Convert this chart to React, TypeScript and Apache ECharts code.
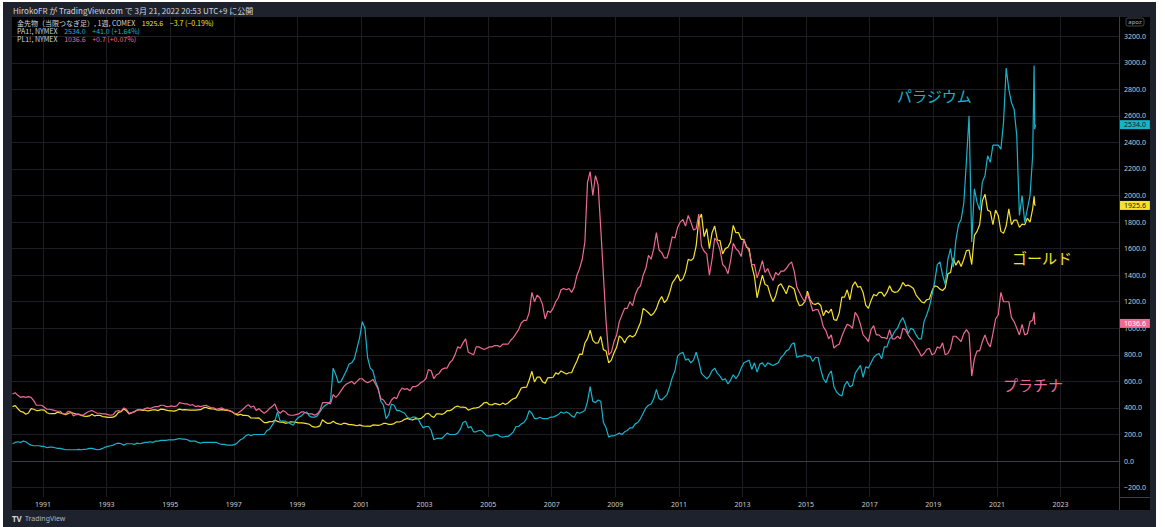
import React, { useEffect, useRef } from "react";
import * as echarts from "echarts";

// ---- data (monthly, Jan 1990 .. Feb 2022, then weekly tail for March 2022) ----
const START_YEAR = 1990;

const goldMonthly = [
  410, 417, 394, 374, 369, 352, 362, 395, 390, 380, 381, 386,
  384, 364, 356, 357, 357, 368, 362, 356, 349, 358, 366, 360,
  354, 354, 344, 338, 337, 340, 353, 340, 345, 344, 335, 333,
  329, 329, 330, 342, 367, 372, 392, 378, 355, 364, 373, 383,
  387, 382, 384, 377, 381, 386, 385, 380, 391, 389, 384, 379,
  378, 376, 382, 391, 385, 387, 386, 383, 383, 383, 386, 387,
  400, 405, 396, 393, 392, 385, 383, 387, 383, 381, 378, 369,
  355, 346, 352, 344, 344, 341, 324, 324, 323, 325, 306, 289,
  289, 297, 296, 308, 299, 292, 293, 284, 289, 296, 294, 291,
  287, 287, 286, 282, 277, 261, 256, 257, 265, 311, 293, 283,
  285, 299, 286, 280, 275, 285, 282, 274, 274, 270, 266, 272,
  265, 262, 263, 261, 272, 270, 268, 273, 283, 283, 276, 276,
  282, 296, 294, 302, 314, 321, 313, 310, 319, 317, 319, 333,
  356, 359, 340, 328, 355, 356, 351, 360, 379, 379, 389, 407,
  414, 405, 406, 403, 383, 392, 398, 400, 405, 420, 439, 442,
  424, 423, 434, 429, 423, 437, 425, 437, 456, 469, 476, 510,
  550, 555, 557, 610, 676, 596, 633, 632, 598, 585, 627, 629,
  631, 664, 655, 679, 667, 655, 665, 665, 712, 754, 806, 803,
  889, 922, 985, 909, 888, 889, 939, 839, 829, 740, 760, 816,
  858, 943, 925, 890, 928, 946, 934, 949, 996, 1043, 1150, 1135,
  1117, 1095, 1113, 1148, 1205, 1240, 1193, 1215, 1270, 1342, 1370, 1405,
  1356, 1372, 1424, 1520, 1510, 1528, 1620, 1820, 1860, 1690, 1750, 1600,
  1720, 1770, 1665, 1660, 1560, 1600, 1610, 1650, 1775, 1720, 1720, 1670,
  1670, 1610, 1600, 1470, 1390, 1230, 1320, 1400, 1330, 1320, 1250, 1200,
  1244, 1320, 1336, 1299, 1260, 1320, 1311, 1296, 1215, 1170, 1176, 1200,
  1280, 1215, 1185, 1180, 1190, 1172, 1095, 1135, 1115, 1145, 1065, 1060,
  1115, 1235, 1235, 1290, 1215, 1320, 1350, 1310, 1315, 1270, 1175, 1150,
  1210, 1255, 1245, 1270, 1270, 1240, 1270, 1320, 1280, 1270, 1275, 1300,
  1345, 1320, 1325, 1315, 1300, 1250, 1225, 1200, 1190, 1215, 1220, 1280,
  1320, 1315, 1295, 1285, 1305, 1410, 1420, 1530, 1475, 1510, 1465, 1520,
  1585, 1590, 1480, 1700, 1730, 1780, 1960, 2010, 1890, 1880, 1780, 1890,
  1850, 1730, 1715, 1770, 1900, 1780, 1815, 1815, 1760, 1785, 1780, 1830,
  1800, 1900,
];

const platinumMonthly = [
  505, 515, 495, 480, 485, 480, 485, 480, 455, 420, 420, 420,
  405, 390, 390, 385, 380, 375, 375, 355, 355, 375, 370, 340,
  350, 350, 345, 350, 365, 375, 380, 370, 360, 360, 355, 355,
  350, 345, 350, 375, 380, 375, 400, 390, 360, 365, 370, 385,
  390, 385, 395, 400, 395, 405, 410, 410, 420, 420, 410, 410,
  415, 410, 415, 440, 435, 430, 430, 420, 425, 410, 415, 410,
  415, 420, 410, 400, 400, 390, 395, 400, 390, 385, 380, 370,
  355, 360, 375, 390, 410, 425, 405, 415, 380, 395, 375, 360,
  375, 395, 410, 430, 380, 360, 380, 370, 350, 345, 345, 350,
  355, 370, 370, 360, 355, 355, 345, 355, 380, 440, 440, 440,
  430, 500, 480, 500, 530, 560, 580, 590, 600, 580, 600, 620,
  620, 600, 590, 600, 615, 580, 540, 470, 460, 430, 420, 460,
  480, 470, 520, 550, 540, 545, 530, 560, 560, 570, 590, 600,
  620, 690, 680, 620, 650, 660, 690, 700, 700, 740, 760, 800,
  860, 850, 890, 920, 820, 810, 800, 860, 860, 850, 840, 850,
  860, 860, 870, 870, 860, 880, 880, 880, 910, 930, 960, 990,
  1040, 1060, 1060, 1120, 1270, 1200, 1250, 1230, 1180, 1070, 1130, 1120,
  1150, 1200, 1230, 1290, 1300, 1290, 1300, 1270, 1310, 1400, 1450, 1520,
  1650, 2100, 2180, 2000, 2150, 2080, 1750, 1400, 1050, 800, 820, 900,
  950, 1050, 1100, 1150, 1150, 1200, 1170, 1250, 1300, 1320, 1400, 1450,
  1550, 1520, 1600, 1720, 1590, 1570, 1530, 1530, 1600, 1690, 1680, 1760,
  1800, 1820, 1770, 1850, 1800, 1740, 1750, 1860, 1620, 1580, 1560, 1400,
  1520, 1680, 1650, 1590, 1480, 1460, 1410, 1510, 1640, 1600, 1580, 1540,
  1670, 1620, 1580, 1480, 1480, 1380, 1440, 1510, 1420, 1450, 1400, 1360,
  1420, 1400, 1430, 1430, 1450, 1480, 1500, 1430, 1310, 1270, 1230, 1200,
  1260, 1200, 1130, 1140, 1140, 1090, 1010, 980, 920, 950, 850, 870,
  880, 940, 990, 1030, 1020, 1000, 1120, 1090, 1030, 950, 930, 900,
  990, 1020, 950, 950, 930, 930, 920, 990, 920, 920, 940, 920,
  1000, 990, 950, 920, 900, 860, 830, 790, 810, 840, 850, 800,
  810, 860, 850, 890, 800, 810, 850, 940, 940, 920, 900, 960,
  990, 960, 640, 770, 830, 830, 900, 950, 890, 860, 960, 1070,
  1100, 1270, 1200, 1200, 1200, 1080, 1050, 1000, 950, 1030, 950, 960,
  1050, 1060,
];

const palladiumMonthly = [
  130, 140, 145, 140, 150, 145, 130, 120, 115, 115, 115, 110,
  110, 100, 105, 105, 100, 95, 95, 90, 85, 85, 85, 85,
  85, 88, 85, 88, 90, 95, 95, 90, 85, 88, 95, 105,
  110, 115, 120, 130, 135, 130, 120, 130, 130, 130, 125, 135,
  130, 135, 140, 140, 145, 140, 150, 150, 155, 155, 155, 160,
  160, 160, 165, 170, 165, 165, 160, 150, 150, 150, 140, 135,
  140, 140, 140, 140, 140, 140, 130, 125, 125, 120, 120, 120,
  125, 140, 160, 170, 190, 200, 190, 200, 200, 200, 200, 200,
  230, 240, 270, 300, 370, 300, 300, 300, 290, 280, 270, 310,
  330, 340, 360, 370, 340, 330, 330, 340, 370, 400, 420, 430,
  450, 700, 650, 590, 600, 640, 680, 730, 740, 770, 850, 930,
  1050, 1000, 780, 700, 680, 600, 550, 450, 420, 320, 350, 430,
  420, 380, 380, 370, 360, 330, 320, 330, 330, 320, 280, 250,
  260, 260, 230, 160, 170, 170, 170, 190, 210, 200, 200, 200,
  210, 240, 290, 300, 250, 260, 220, 220, 230, 230, 210, 190,
  190, 190, 200, 200, 185, 180, 185, 185, 200, 220, 260, 260,
  280, 290, 320, 380, 360, 320, 320, 330, 320, 320, 320, 330,
  330, 340, 350, 370, 360, 370, 360, 340, 330, 370, 360, 370,
  380, 450, 560, 450, 440, 460, 450, 290, 250, 180, 190, 190,
  200, 210, 200, 220, 230, 250, 250, 280, 290, 320, 360, 400,
  420, 430, 470, 540, 470, 460, 480, 500, 560, 630, 680, 790,
  810, 820, 760, 770, 740, 760, 820, 750, 660, 640, 620, 640,
  680, 700, 660, 640, 610, 620, 580, 610, 650, 620, 650, 700,
  740, 750, 760, 690, 740, 670, 730, 740, 710, 740, 730, 720,
  730, 740, 780, 800, 830, 840, 880, 890, 780, 790, 790, 800,
  790, 790, 750, 780, 780, 690, 620, 590, 650, 680, 560, 520,
  500, 490, 570, 600, 560, 570, 660, 690, 720, 630, 710, 700,
  740, 780, 800, 810, 770, 860, 860, 920, 940, 980, 1000, 1050,
  1080, 1030, 960, 1000, 990, 950, 920, 920, 1050, 1100, 1160, 1250,
  1350, 1480, 1500, 1400, 1330, 1520, 1600, 1460, 1660, 1780, 1820, 1940,
  2260, 2600, 1650, 2050, 1950, 1890, 2100, 2150, 2300, 2250, 2380, 2380,
  2380, 2350, 2550, 2960, 2800, 2700, 2650, 2450, 1850, 2000, 1800, 1900,
  2000, 2300,
];

// weekly closes for March 2022 (decimal-year dates)
const tailDates = [2022.17, 2022.19, 2022.215];
const goldTail = [1995, 1930, 1925.6];
const platinumTail = [1120, 1030, 1036.6];
const palladiumTail = [2980, 2500, 2534.0];

const headerChanges = {
  gold: "−3.7 (−0.19%)",
  palladium: "+41.0 (+1.64%)",
  platinum: "+0.7 (+0.07%)",
};

const yearTicks = [1991, 1993, 1995, 1997, 1999, 2001, 2003, 2005, 2007, 2009, 2011, 2013, 2015, 2017, 2019, 2021, 2023];
const priceTicks = [-200, 0, 200, 400, 600, 800, 1000, 1200, 1400, 1600, 1800, 2000, 2200, 2400, 2600, 2800, 3000, 3200];

const GOLD = "#f5e22c";
const PALLADIUM = "#17b3cc";
const PLATINUM = "#ec6a93";
const FONT = '"Noto Sans", "Noto Sans CJK JP", sans-serif';
const JP = '"Noto Sans CJK JP", sans-serif';

function toPairs(monthly: number[], tD: number[], tV: number[]) {
  const out: number[][] = monthly.map((v, i) => [START_YEAR + (i + 0.5) / 12, v]);
  tD.forEach((d, i) => out.push([d, tV[i]]));
  return out;
}

function lastOf(a: number[]) {
  return a[a.length - 1];
}

function lineSeries(name: string, color: string, data: number[][], last: number, tagText: string) {
  return {
    name,
    type: "line",
    data,
    showSymbol: false,
    symbol: "none",
    lineStyle: { color, width: 1.2 },
    itemStyle: { color },
    clip: false,
    markLine: {
      silent: true,
      symbol: ["none", "none"],
      lineStyle: { color: "rgba(0,0,0,0)", width: 0, type: "solid" },
      emphasis: { disabled: true },
      data: [{ yAxis: last }],
      label: {
        show: true,
        position: "end",
        distance: 1,
        formatter: () => last.toFixed(1),
        backgroundColor: color,
        color: tagText,
        opacity: 1,
        fontSize: 7,
        fontFamily: FONT,
        padding: [1, 4, 1, 4],
      },
    },
  };
}

export default function App() {
  const ref = useRef<HTMLDivElement>(null);

  useEffect(() => {
    if (!ref.current) return;
    const chart = echarts.init(ref.current, undefined, { renderer: "svg" });
    const gl = lastOf(goldTail);
    const pa = lastOf(palladiumTail);
    const pl = lastOf(platinumTail);

    const option: any = {
      animation: false,
      backgroundColor: "#ffffff",
      textStyle: { fontFamily: FONT },
      grid: { left: 12, right: 46, top: 17, bottom: 30 },
      xAxis: {
        type: "value",
        min: 1990.025,
        max: 2024.84,
        axisLine: { show: true, lineStyle: { color: "#3b3e46", width: 1 } },
        axisTick: { show: false, customValues: yearTicks },
        axisLabel: {
          customValues: yearTicks,
          color: "#c9ccd3",
          fontSize: 7,
          margin: 4,
          formatter: (v: number) => String(v),
        },
        splitLine: { show: true, lineStyle: { color: "#1c1e24", width: 1 } },
      },
      yAxis: {
        type: "value",
        position: "right",
        min: -271,
        max: 3345,
        axisLine: { show: true, lineStyle: { color: "#3b3e46", width: 1 } },
        axisTick: { show: false, customValues: priceTicks },
        axisLabel: {
          customValues: priceTicks,
          color: "#c9ccd3",
          fontSize: 7,
          margin: 5,
          align: "left",
          formatter: (v: number) => (v < 0 ? "−" + Math.abs(v).toFixed(1) : v.toFixed(1)),
        },
        splitLine: { show: true, lineStyle: { color: "#1c1e24", width: 1 } },
      },
      graphic: [
        { type: "rect", z: -2, silent: true, shape: { x: 3, y: 2, width: 1153, height: 525 }, style: { fill: "#1e222d" } },
        { type: "rect", z: -1, silent: true, shape: { x: 12, y: 17, width: 1138, height: 493 }, style: { fill: "#000000" } },
        { type: "line", z: 5, silent: true, shape: { x1: 1119.5, y1: 497, x2: 1119.5, y2: 510 }, style: { stroke: "#3b3e46", lineWidth: 1 } },
        { type: "line", z: 5, silent: true, shape: { x1: 1119, y1: 497.5, x2: 1150, y2: 497.5 }, style: { stroke: "#3b3e46", lineWidth: 1 } },
        {
          type: "rect", z: 10, silent: true,
          shape: { x: 1126, y: 18, width: 18, height: 8, r: 2 },
          style: { fill: "#000000", stroke: "#555861", lineWidth: 0.8 },
        },
        {
          type: "text", z: 11, x: 1135, y: 22,
          style: { text: "apoz", fill: "#b2b5be", font: `6px ${FONT}`, align: "center", verticalAlign: "middle" },
        },
        {
          type: "text", z: 10, x: 13, y: 10,
          style: { text: "HirokoFR が TradingView.com で 3月 21, 2022 20:53 UTC+9 に公開", fill: "#d1d4dc", font: `8px ${JP}`, verticalAlign: "middle" },
        },
        {
          type: "text", z: 10, x: 17, y: 23,
          style: {
            text: `{a|金先物（当限つなぎ足）, 1週, COMEX}  {g|${gl.toFixed(1)}}  {g|${headerChanges.gold}}`,
            verticalAlign: "middle",
            rich: {
              a: { fill: "#d1d4dc", font: `7px ${JP}` },
              g: { fill: GOLD, font: `7px ${JP}` },
            },
          },
        },
        {
          type: "text", z: 10, x: 17, y: 31,
          style: {
            text: `{a|PA1!, NYMEX}  {c|${pa.toFixed(1)}}  {c|${headerChanges.palladium}}`,
            verticalAlign: "middle",
            rich: {
              a: { fill: "#d1d4dc", font: `7px ${JP}` },
              c: { fill: PALLADIUM, font: `7px ${JP}` },
            },
          },
        },
        {
          type: "text", z: 10, x: 17, y: 39,
          style: {
            text: `{a|PL1!, NYMEX}  {p|${pl.toFixed(1)}}  {p|${headerChanges.platinum}}`,
            verticalAlign: "middle",
            rich: {
              a: { fill: "#d1d4dc", font: `7px ${JP}` },
              p: { fill: PLATINUM, font: `7px ${JP}` },
            },
          },
        },
        { type: "text", z: 10, x: 897, y: 95, style: { text: "パラジウム", fill: PALLADIUM, font: `15px ${JP}`, verticalAlign: "middle" } },
        { type: "text", z: 10, x: 1012, y: 257, style: { text: "ゴールド", fill: GOLD, font: `15px ${JP}`, verticalAlign: "middle" } },
        { type: "text", z: 10, x: 1003, y: 384, style: { text: "プラチナ", fill: PLATINUM, font: `15px ${JP}`, verticalAlign: "middle" } },
        { type: "text", z: 10, x: 12, y: 518, style: { text: "TV", fill: "#d1d4dc", font: `bold 8px ${FONT}`, verticalAlign: "middle" } },
        { type: "text", z: 10, x: 25, y: 518, style: { text: "TradingView", fill: "#b2b5be", font: `7px ${FONT}`, verticalAlign: "middle" } },
      ],
      series: [
        lineSeries("金先物", GOLD, toPairs(goldMonthly, tailDates, goldTail), gl, "#131722"),
        lineSeries("PA1!", PALLADIUM, toPairs(palladiumMonthly, tailDates, palladiumTail), pa, "#131722"),
        lineSeries("PL1!", PLATINUM, toPairs(platinumMonthly, tailDates, platinumTail), pl, "#ffffff"),
      ],
    };
    chart.setOption(option);
    return () => chart.dispose();
  }, []);

  return (
    <div style={{ position: "fixed", left: 0, top: 0, width: 1165, height: 527, background: "#fff" }}>
      <div ref={ref} style={{ width: 1165, height: 527 }} />
    </div>
  );
}
